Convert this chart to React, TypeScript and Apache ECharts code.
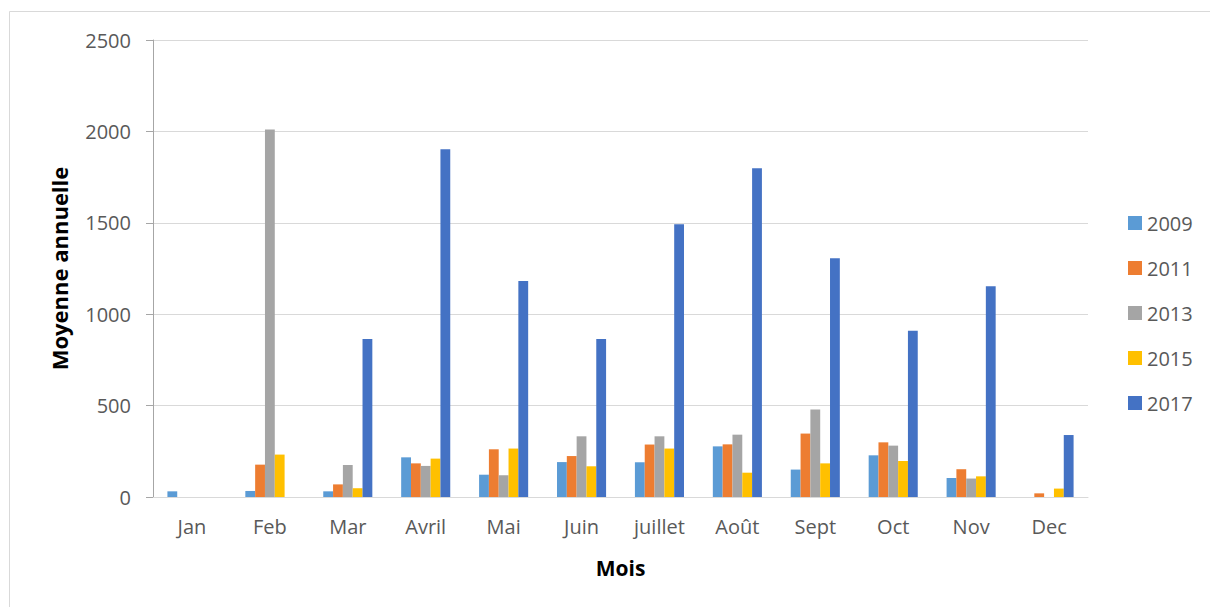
import React, { useEffect, useRef } from "react";
import * as echarts from "echarts";

const months = ["Jan", "Feb", "Mar", "Avril", "Mai", "Juin", "juillet", "Août", "Sept", "Oct", "Nov", "Dec"];
const yearNames = ["2009", "2011", "2013", "2015", "2017"];
const v2009 = [31, 33, 31, 217, 122, 191, 190, 277, 150, 228, 104, 0];
const v2011 = [0, 177, 69, 184, 261, 224, 287, 288, 347, 299, 152, 20];
const v2013 = [0, 2010, 175, 170, 119, 332, 332, 341, 478, 281, 101, 0];
const v2015 = [0, 232, 48, 210, 265, 168, 265, 133, 184, 197, 113, 46];
const v2017 = [0, 0, 865, 1903, 1181, 864, 1492, 1798, 1306, 910, 1153, 339];
const yTicks = { min: 0, max: 2500, interval: 500 };
const colors = ["#5B9BD5", "#ED7D31", "#A5A5A5", "#FFC000", "#4472C4"];

const FONT = "'Open Sans', 'Liberation Sans', sans-serif";

export default function App() {
  const ref = useRef<HTMLDivElement>(null);
  useEffect(() => {
    if (!ref.current) return;
    const chart = echarts.init(ref.current, null, { renderer: "svg" });
    const data = [v2009, v2011, v2013, v2015, v2017];
    chart.setOption({
      animation: false,
      textStyle: { fontFamily: FONT },
      graphic: [
        {
          type: "rect",
          shape: { x: 9.5, y: 11.5, width: 1400, height: 800 },
          style: { fill: "none", stroke: "#d9d9d9", lineWidth: 1 },
          silent: true,
        },
      ],
      grid: { left: 153, right: 122, top: 40, bottom: 110 },
      legend: {
        orient: "vertical",
        left: 1123,
        top: 208,
        itemWidth: 14,
        itemHeight: 14,
        itemGap: 25,
        icon: "rect",
        data: yearNames,
        textStyle: { fontSize: 20, color: "#595959", fontFamily: FONT, lineHeight: 20 },
      },
      xAxis: {
        type: "category",
        data: months,
        name: "Mois",
        nameLocation: "middle",
        nameGap: 60,
        nameTextStyle: { fontSize: 21, fontWeight: "bold", color: "#000", fontFamily: FONT },
        axisLine: { lineStyle: { color: "#d9d9d9", width: 1 } },
        axisTick: { show: false },
        axisLabel: { fontSize: 20, color: "#595959", margin: 19, fontFamily: FONT },
      },
      yAxis: {
        type: "value",
        min: yTicks.min,
        max: yTicks.max,
        interval: yTicks.interval,
        name: "Moyenne annuelle",
        nameLocation: "middle",
        nameGap: 83,
        nameRotate: 90,
        nameTextStyle: { fontSize: 22, fontWeight: "bold", color: "#000", fontFamily: FONT },
        axisLine: { show: true, lineStyle: { color: "#a6a6a6", width: 1 } },
        axisTick: { show: true, length: 7, lineStyle: { color: "#a6a6a6" } },
        axisLabel: {
          fontSize: 20,
          color: "#595959",
          margin: 22,
          fontFamily: FONT,
          formatter: (v: number) => String(v),
        },
        splitLine: { lineStyle: { color: "#d9d9d9", width: 1 } },
      },
      series: yearNames.map((n, i) => ({
        name: n,
        type: "bar",
        data: data[i],
        barGap: "0%",
        barCategoryGap: "37%",
        itemStyle: { color: colors[i] },
      })),
    });
    return () => chart.dispose();
  }, []);
  return (
    <div
      ref={ref}
      style={{ position: "fixed", left: 0, top: 0, width: 1210, height: 607, background: "#fff" }}
    />
  );
}
